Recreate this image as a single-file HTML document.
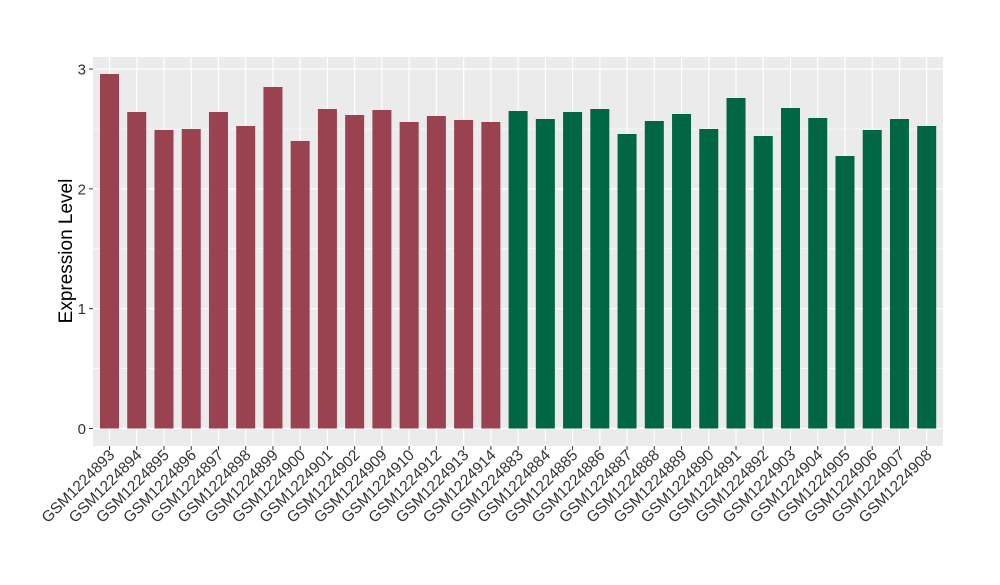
<!DOCTYPE html>
<html><head><meta charset="utf-8"><style>body{margin:0;background:#fff}</style></head><body>
<svg width="1000" height="580" xmlns="http://www.w3.org/2000/svg" font-family="Liberation Sans, sans-serif">
<rect x="93" y="57" width="850" height="389" fill="#ebebeb"/>
<g stroke="#fff" stroke-width="0.6">
<line x1="93" x2="943" y1="368.6" y2="368.6"/><line x1="93" x2="943" y1="248.8" y2="248.8"/><line x1="93" x2="943" y1="129" y2="129"/>
</g>
<g stroke="#fff" stroke-width="1.2">
<line x1="93" x2="943" y1="428.5" y2="428.5"/><line x1="93" x2="943" y1="308.7" y2="308.7"/><line x1="93" x2="943" y1="188.9" y2="188.9"/><line x1="93" x2="943" y1="69.1" y2="69.1"/>
</g>
<g id="bars"></g>
<g font-size="15" fill="#333" text-anchor="end">
<text x="86" y="434">0</text><text x="86" y="314.2">1</text><text x="86" y="194.4">2</text><text x="86" y="74.6">3</text>
</g>
<g stroke="#333"><line x1="89" x2="93" y1="428.5" y2="428.5"/><line x1="89" x2="93" y1="308.7" y2="308.7"/><line x1="89" x2="93" y1="188.9" y2="188.9"/><line x1="89" x2="93" y1="69.1" y2="69.1"/></g>
<text transform="translate(72,251) rotate(-90)" text-anchor="middle" font-size="19" fill="#000">Expression Level</text>
<g id="labs" font-size="15.5" fill="#333" text-anchor="end"></g>
<script>
var tops=[74,112,130,129,112,126,87,141,109,115,110,122,116,120,122,111,119,112,109,134,121,114,129,98,136,108,118,156,130,119,126];
var names=["GSM1224893","GSM1224894","GSM1224895","GSM1224896","GSM1224897","GSM1224898","GSM1224899","GSM1224900","GSM1224901","GSM1224902","GSM1224909","GSM1224910","GSM1224912","GSM1224913","GSM1224914","GSM1224883","GSM1224884","GSM1224885","GSM1224886","GSM1224887","GSM1224888","GSM1224889","GSM1224890","GSM1224891","GSM1224892","GSM1224903","GSM1224904","GSM1224905","GSM1224906","GSM1224907","GSM1224908"];
var ns="http://www.w3.org/2000/svg",b=document.getElementById("bars"),l=document.getElementById("labs");
var svg=b.ownerSVGElement;
for(var i=0;i<31;i++){var c=109.5+i*27.24;
var r=document.createElementNS(ns,"rect");r.setAttribute("x",c-9.5);r.setAttribute("width",19);r.setAttribute("y",tops[i]);r.setAttribute("height",428.5-tops[i]);r.setAttribute("fill",i<15?"#9a4250":"#006644");b.appendChild(r);
var v=document.createElementNS(ns,"line");v.setAttribute("x1",c);v.setAttribute("x2",c);v.setAttribute("y1",57);v.setAttribute("y2",446);v.setAttribute("stroke","#fff");v.setAttribute("stroke-width","1.2");b.insertBefore(v,b.firstChild);
var t=document.createElementNS(ns,"line");t.setAttribute("x1",c);t.setAttribute("x2",c);t.setAttribute("y1",446);t.setAttribute("y2",450);t.setAttribute("stroke","#333");svg.appendChild(t);
var x=document.createElementNS(ns,"text");x.setAttribute("transform","translate("+(c+6)+",456) rotate(-45)");x.textContent=names[i];l.appendChild(x);}
</script>
</svg>
</body></html>
